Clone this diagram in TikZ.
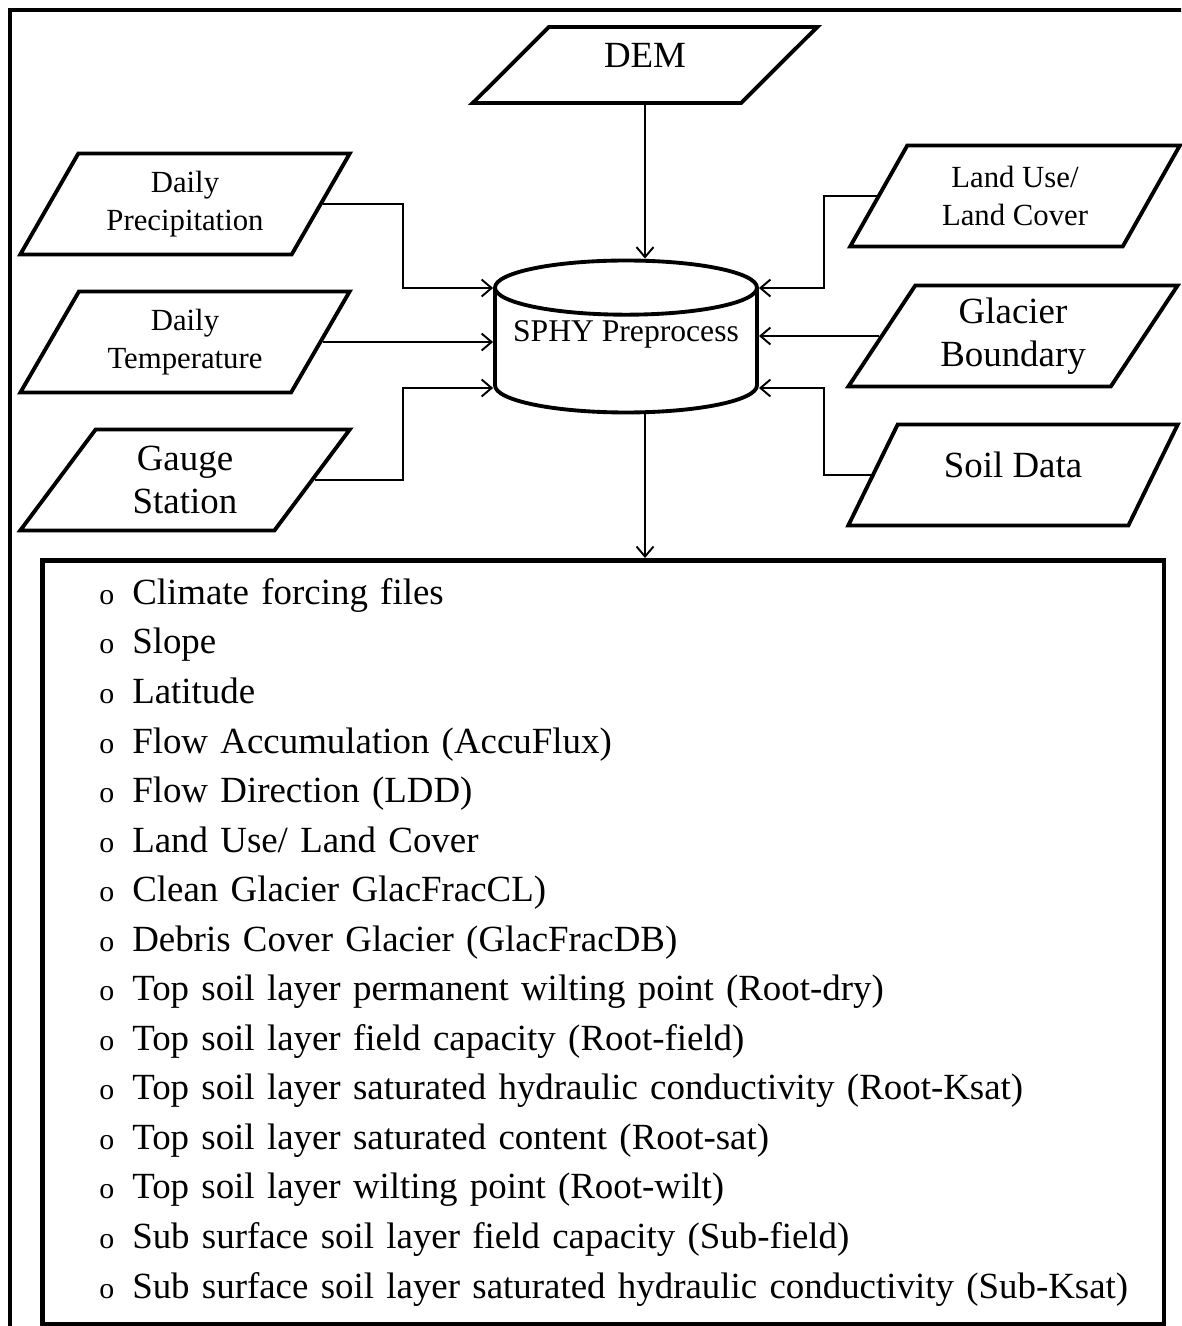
\documentclass[tikz,border=0pt]{standalone}
\usepackage{fontspec}
\setmainfont{Liberation Serif}
\usetikzlibrary{
    positioning,
    calc,
    shapes.geometric,
    arrows.meta
}

\newcommand{\Marcador}{\hspace*{0.57cm}\makebox[0.66cm][l]{\fontsize{17}{17}\selectfont o}}

\tikzset{
    DadoEntrada/.style={
        trapezium,
        draw,
        line width=2.2pt,
        trapezium stretches=true,
        trapezium left angle=57,
        trapezium right angle=123,
        minimum width=6.6cm,
        minimum height=2.02cm,
        inner sep=0pt,
        align=center
    },
    TextoMenor/.style={font=\fontsize{17.5}{21.6}\selectfont},
    TextoMaior/.style={font=\fontsize{21}{24.5}\selectfont},
    Cilindro/.style={
        cylinder,
        shape border rotate=90,
        aspect=0.24,
        draw,
        line width=2.2pt,
        minimum width=5.24cm,
        minimum height=3.04cm,
        inner sep=0pt,
        font=\fontsize{18}{21}\selectfont
    },
    ListaSaida/.style={
        draw,
        line width=2.6pt,
        minimum width=22.44cm,
        minimum height=15.28cm,
        text width=21.3cm,
        inner xsep=0.57cm,
        align=left,
        font=\fontsize{21}{28.2}\selectfont
    },
    Seta/.style={
        line width=1.1pt,
        -{Straight Barb[length=2mm,width=3.4mm]}
    }
}

\begin{document}
\begin{tikzpicture}[x=0.02cm,y=-0.02cm]
    \useasboundingbox (0,0) rectangle (1181,1326);
    \begin{scope}
        \clip (0,0) rectangle (1181,1326);
        \draw[line width=2.2pt] (10,10) rectangle (1200,1345);
    \end{scope}

    % entradas
    \node[DadoEntrada, TextoMaior, trapezium left angle=53, trapezium right angle=127,
          minimum width=6.92cm, minimum height=1.52cm]
        (dem) at (645,65) {\raisebox{0.38cm}{DEM}};
    \node[DadoEntrada, TextoMenor] (prec) at (185,204) {Daily\\Precipitation};
    \node[DadoEntrada, TextoMenor] (temp) at (185,342) {Daily\\Temperature};
    \node[DadoEntrada, TextoMaior] (gauge) at (185,480) {Gauge\\Station};
    \node[DadoEntrada, TextoMenor] (luse) at (1015,196) {Land Use/\\Land Cover};
    \node[DadoEntrada, TextoMaior] (glacier) at (1013,336) {Glacier\\Boundary};
    \node[DadoEntrada, TextoMaior] (soil) at (1013,475) {\raisebox{0.4cm}{Soil Data}};

    % preprocessamento
    \node[Cilindro] (sphy) at (626,351) {\raisebox{0.2cm}[0pt][0pt]{SPHY Preprocess}};

    % arquivos gerados
    \node[ListaSaida, anchor=north west] (files) at (40,558) {
        \Marcador Climate forcing files\\
        \Marcador Slope\\
        \Marcador Latitude\\
        \Marcador Flow Accumulation (AccuFlux)\\
        \Marcador Flow Direction (LDD)\\
        \Marcador Land Use/ Land Cover\\
        \Marcador Clean Glacier GlacFracCL)\\
        \Marcador Debris Cover Glacier (GlacFracDB)\\
        \Marcador Top soil layer permanent wilting point (Root-dry)\\
        \Marcador Top soil layer field capacity (Root-field)\\
        \Marcador Top soil layer saturated hydraulic conductivity (Root-Ksat)\\
        \Marcador Top soil layer saturated content (Root-sat)\\
        \Marcador Top soil layer wilting point (Root-wilt)\\
        \Marcador Sub surface soil layer field capacity (Sub-field)\\
        \Marcador Sub surface soil layer saturated hydraulic conductivity (Sub-Ksat)
    };

    % ligacoes
    \draw[Seta] (dem.south) -- (dem.south |- sphy.north);
    \draw[Seta] (prec.east) -| ([shift={(-1.8cm,1.26cm)}]sphy.west) -- ([yshift=1.26cm]sphy.west);
    \draw[Seta] (temp.east) -- (temp.east -| sphy.west);
    \draw[Seta] (gauge.east) -| ([shift={(-1.8cm,-0.74cm)}]sphy.west) -- ([yshift=-0.74cm]sphy.west);
    \draw[Seta] (luse.west) -| ([shift={(1.3cm,1.26cm)}]sphy.east) -- ([yshift=1.26cm]sphy.east);
    \draw[Seta] (glacier.west) -- (glacier.west -| sphy.east);
    \draw[Seta] (soil.west) -| ([shift={(1.3cm,-0.74cm)}]sphy.east) -- ([yshift=-0.74cm]sphy.east);
    \draw[Seta] (dem.south |- sphy.south) -- (dem.south |- files.north);
\end{tikzpicture}
\end{document}
